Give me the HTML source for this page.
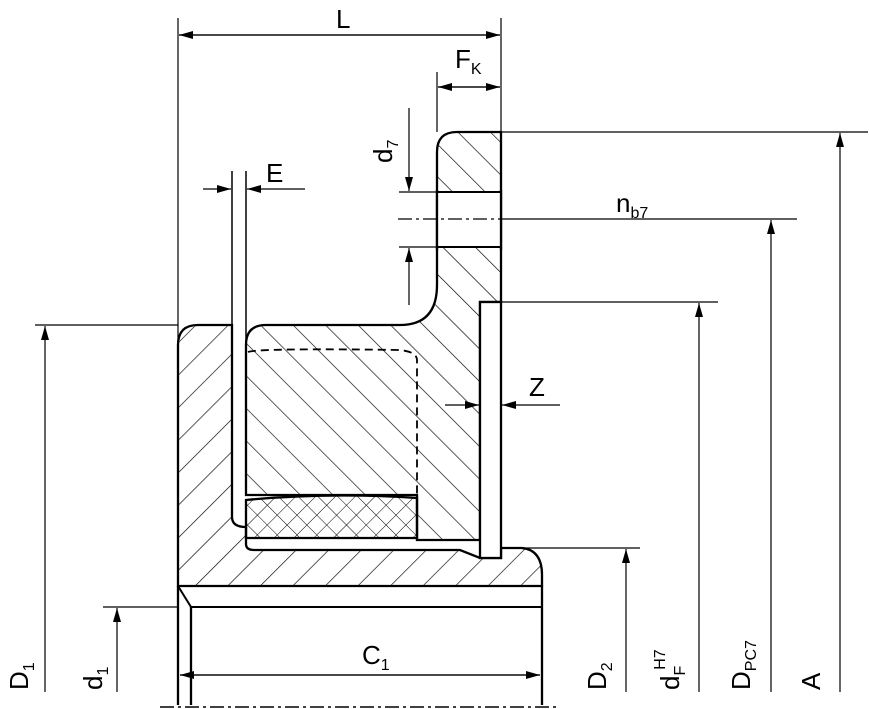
<!DOCTYPE html>
<html><head><meta charset="utf-8"><style>html,body{margin:0;padding:0;background:#fff}svg{display:block}text{font-family:"Liberation Sans",sans-serif;fill:#000}</style></head><body>
<svg width="869" height="709" viewBox="0 0 869 709" xmlns="http://www.w3.org/2000/svg">
<defs>
<pattern id="hA" patternUnits="userSpaceOnUse" width="23" height="23" patternTransform="rotate(45)"><line x1="0" y1="0" x2="0" y2="23" stroke="#000" stroke-width="1.3"/></pattern>
<pattern id="hB" patternUnits="userSpaceOnUse" width="23" height="23" patternTransform="rotate(-45)"><line x1="0" y1="0" x2="0" y2="23" stroke="#000" stroke-width="1.3"/></pattern>
<pattern id="hX" patternUnits="userSpaceOnUse" width="14" height="14" patternTransform="rotate(45)"><line x1="0" y1="0" x2="0" y2="14" stroke="#000" stroke-width="1"/><line x1="0" y1="0" x2="14" y2="0" stroke="#000" stroke-width="1"/></pattern>
<marker id="ar" markerWidth="14" markerHeight="8" refX="14" refY="4" orient="auto" markerUnits="userSpaceOnUse"><path d="M0,0 L14,4 L0,8 z" fill="#000"/></marker>
</defs>
<g stroke="#000" fill="none">
<path d="M178,345 Q178,325 198,325 L232,325 L232,517 Q232,527 246,527 L246,544 Q246,550 254,550 L460,550 L480,558 L501,558 L501,548 L522,548 Q542,550 542,575 L542,586 L178,586 Z" fill="url(#hA)" stroke-width="2.3"/>
<path d="M246,345 Q246,325 266,325 L400,325 Q437,325 437,285 L437,152 Q437,132 457,132 L501,132 L501,302 L480,302 L480,540 L417,540 L417,495 L246,495 Z" fill="url(#hB)" stroke-width="2.3"/>
<rect x="437" y="192" width="64" height="55" fill="#fff" stroke="none"/>
<line x1="437" y1="192" x2="501" y2="192" stroke-width="2"/>
<line x1="437" y1="247" x2="501" y2="247" stroke-width="2"/>
<line x1="437" y1="190" x2="437" y2="250" stroke-width="2.3"/>
<line x1="501" y1="190" x2="501" y2="250" stroke-width="2.3"/>
<path d="M246,500 Q330,492 417,498 L417,538 L246,538 Z" fill="url(#hX)" stroke-width="2.3"/>
<rect x="480" y="302" width="21" height="256" fill="#fff" stroke-width="2.3"/>
<path d="M248,352 Q260,348 400,350 Q417,352 417,360 L417,495" stroke-dasharray="8,5" stroke-width="1.8"/>
<line x1="178" y1="586" x2="178" y2="705" stroke-width="2.3"/>
<line x1="191" y1="607" x2="191" y2="705" stroke-width="2.3"/>
<line x1="542" y1="586" x2="542" y2="705" stroke-width="2.3"/>
<line x1="178" y1="586" x2="191" y2="607" stroke-width="2"/>
<line x1="191" y1="607" x2="542" y2="607" stroke-width="2"/>
<line x1="160" y1="707" x2="560" y2="707" stroke-width="1.5" stroke-dasharray="14,4,3,4"/>
<line x1="232" y1="171" x2="232" y2="325" stroke-width="1.5"/>
<line x1="246" y1="171" x2="246" y2="345" stroke-width="1.5"/>
<g stroke-width="1.2">
<line x1="178" y1="18" x2="178" y2="586"/>
<line x1="501" y1="18" x2="501" y2="132"/>
<line x1="179" y1="35" x2="500" y2="35" marker-end="url(#ar)"/>
<line x1="500" y1="35" x2="179" y2="35" marker-end="url(#ar)"/>
<line x1="437" y1="72" x2="437" y2="132"/>
<line x1="438" y1="87" x2="500" y2="87" marker-end="url(#ar)"/>
<line x1="500" y1="87" x2="438" y2="87" marker-end="url(#ar)"/>
<line x1="203" y1="189" x2="231" y2="189" marker-end="url(#ar)"/>
<line x1="305" y1="189" x2="247" y2="189" marker-end="url(#ar)"/>
<line x1="409" y1="108" x2="409" y2="191" marker-end="url(#ar)"/>
<line x1="409" y1="305" x2="409" y2="248" marker-end="url(#ar)"/>
<line x1="399" y1="192" x2="437" y2="192"/>
<line x1="399" y1="247" x2="437" y2="247"/>
<line x1="398" y1="219" x2="501" y2="219" stroke-dasharray="14,4,3,4"/>
<line x1="501" y1="219" x2="797" y2="219"/>
<line x1="445" y1="405" x2="479" y2="405" marker-end="url(#ar)"/>
<line x1="560" y1="405" x2="502" y2="405" marker-end="url(#ar)"/>
<line x1="501" y1="132" x2="868" y2="132"/>
<line x1="840" y1="692" x2="840" y2="133" marker-end="url(#ar)"/>
<line x1="771" y1="692" x2="771" y2="220" marker-end="url(#ar)"/>
<line x1="501" y1="302" x2="718" y2="302"/>
<line x1="699" y1="692" x2="699" y2="303" marker-end="url(#ar)"/>
<line x1="501" y1="548" x2="640" y2="548"/>
<line x1="626" y1="692" x2="626" y2="549" marker-end="url(#ar)"/>
<line x1="35" y1="325" x2="178" y2="325"/>
<line x1="45" y1="692" x2="45" y2="326" marker-end="url(#ar)"/>
<line x1="103" y1="607" x2="178" y2="607"/>
<line x1="117" y1="692" x2="117" y2="608" marker-end="url(#ar)"/>
<line x1="180" y1="675" x2="540" y2="675" marker-end="url(#ar)"/>
<line x1="540" y1="675" x2="180" y2="675" marker-end="url(#ar)"/>
</g>
</g>
<g font-size="26">
<text x="336" y="28">L</text>
<text x="455" y="68">F<tspan font-size="16" dy="6">K</tspan></text>
<text x="266" y="182">E</text>
<text x="529" y="396">Z</text>
<text x="616" y="212">n<tspan font-size="16" dy="6">b7</tspan></text>
<text x="362" y="664">C<tspan font-size="16" dy="6">1</tspan></text>
<text transform="translate(392,163) rotate(-90)">d<tspan font-size="16" dy="6">7</tspan></text>
<text transform="translate(28,690) rotate(-90)">D<tspan font-size="16" dy="6">1</tspan></text>
<text transform="translate(102,690) rotate(-90)">d<tspan font-size="16" dy="6">1</tspan></text>
<text transform="translate(606,690) rotate(-90)">D<tspan font-size="16" dy="6">2</tspan></text>
<text transform="translate(679,690) rotate(-90)">d<tspan font-size="16" dy="6">F</tspan><tspan font-size="16" dy="-20" dx="-4">H7</tspan></text>
<text transform="translate(750,690) rotate(-90)">D<tspan font-size="16" dy="6">PC7</tspan></text>
<text transform="translate(820,690) rotate(-90)">A</text>
</g>
</svg>
</body></html>
